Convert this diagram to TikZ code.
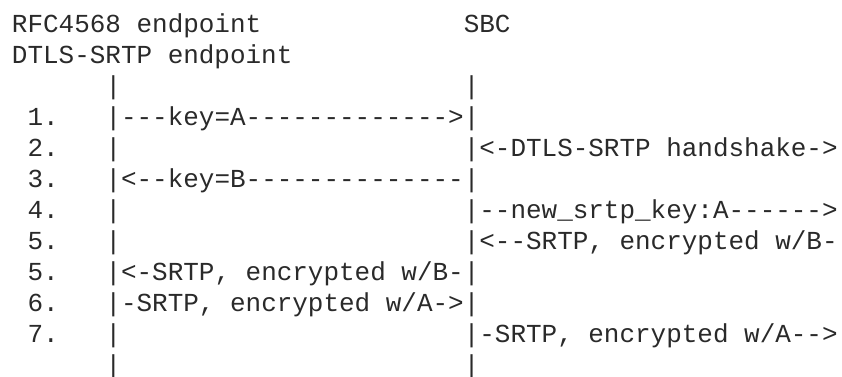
\documentclass[tikz,border=0pt]{standalone}
\usepackage{fontspec}
\setmonofont{Liberation Mono}
\definecolor{asciiink}{HTML}{2A2A2A}

\begin{document}
\begin{tikzpicture}[x=0.75pt, y=-0.75pt]
      % Text style
      \tikzset{
        ascii/.style={anchor=base west, inner sep=0pt, outer sep=0pt, text=asciiink,
          font=\fontsize{19.47pt}{23pt}\selectfont\ttfamily},
      }
      \path[use as bounding box, fill=white] (0,0) rectangle (842,376);
      % Headers
      \node (rfchead) [ascii] at (12,32) {RFC4568 endpoint};
      \node (sbchead) [ascii] at (463.8,32) {SBC};
      \node (dtlshead) [ascii] at (12,63) {DTLS-SRTP endpoint};
      % Lifelines, top
      \node (lefttop) [ascii] at (105.5,94) {|};
      \node (righttop) [ascii] at (463.8,94) {|};
      % Step numbers
      \node (num1) [ascii] at (27.6,125) {1.};
      \node (num2) [ascii] at (27.6,156) {2.};
      \node (num3) [ascii] at (27.6,187) {3.};
      \node (num4) [ascii] at (27.6,218) {4.};
      \node (num5a) [ascii] at (27.6,249) {5.};
      \node (num5b) [ascii] at (27.6,280) {5.};
      \node (num6) [ascii] at (27.6,311) {6.};
      \node (num7) [ascii] at (27.6,342) {7.};
      % Messages between endpoint and SBC
      \node (keya) [ascii] at (105.5,125) {|---key=A------------->|};
      \node (left2) [ascii] at (105.5,156) {|};
      \node (keyb) [ascii] at (105.5,187) {|<--key=B--------------|};
      \node (left4) [ascii] at (105.5,218) {|};
      \node (left5) [ascii] at (105.5,249) {|};
      \node (srtpb) [ascii] at (105.5,280) {|<-SRTP, encrypted w/B-|};
      \node (srtpa) [ascii] at (105.5,311) {|-SRTP, encrypted w/A->|};
      \node (left7) [ascii] at (105.5,342) {|};
      % Messages right of the SBC
      \node (handshake) [ascii] at (463.8,156) {|<-DTLS-SRTP handshake->};
      \node (newkey) [ascii] at (463.8,218) {|--new\_srtp\_key:A------>};
      \node (farsrtpb) [ascii] at (463.8,249) {|<--SRTP, encrypted w/B-};
      \node (farsrtpa) [ascii] at (463.8,342) {|-SRTP, encrypted w/A-->};
      % Lifelines, bottom
      \node (leftbot) [ascii] at (105.5,373) {|};
      \node (rightbot) [ascii] at (463.8,373) {|};
    \end{tikzpicture}
\end{document}
